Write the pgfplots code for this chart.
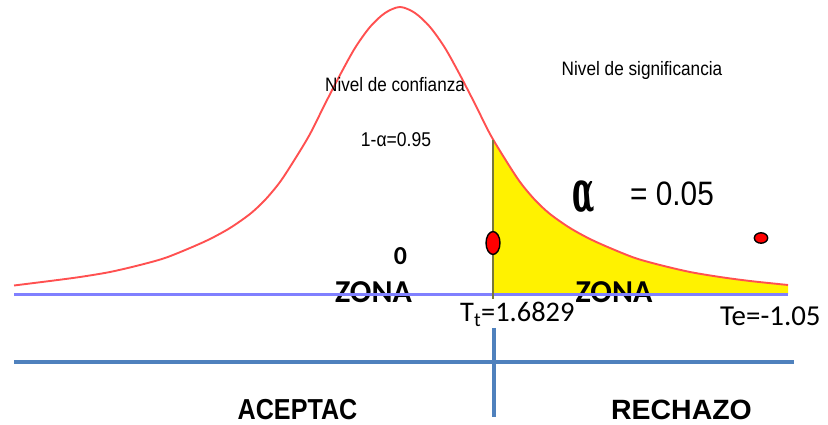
\documentclass[border=0pt]{standalone}
\usepackage{fontspec}
\setmainfont{Liberation Sans}
\newfontfamily\calibri{Carlito}
\newfontfamily\serifb{DejaVu Serif}
\usepackage{pgfplots}
\pgfplotsset{compat=1.18}
\usepgfplotslibrary{fillbetween}
\definecolor{curvered}{RGB}{255,80,80}
\definecolor{baseblue}{RGB}{128,128,255}
\definecolor{divblue}{RGB}{79,129,189}
\definecolor{olive}{RGB}{120,120,60}

\pgfplotstableread{
x y
14 285.5
50 281
80 277
110 272
140 265
165 258
190 248
210 239
230 228
250 214
265 200
280 182
295 159
310 134
325 104
340 75
355 48
370 27
385 13
400 7
415 13
430 27
445 48
460 75
475 104
490 134
505 159
520 182
535 200
550 214
570 228
590 239
610 248
635 258
660 265
690 272
720 277
750 281
788 285
}\curvetab

\begin{document}
\begin{tikzpicture}
\begin{axis}[
  scale only axis, width=828bp, height=425bp,
  xmin=0, xmax=828, ymin=0, ymax=425, y dir=reverse,
  hide axis, clip=false,
]
% ZONA labels (partly hidden by the fill)
\node[font=\calibri\bfseries\fontsize{32}{36}\selectfont, anchor=base, inner sep=0pt] at (axis cs:373.5,303) {ZONA};
\node[font=\calibri\bfseries\fontsize{32}{36}\selectfont, anchor=base, inner sep=0pt] at (axis cs:614,303) {ZONA};

% bell curve (pixel coordinates)
\addplot[name path=curve, draw=none, smooth, forget plot] table[x=x, y=y] {\curvetab};
\addplot[name path=base, draw=none, forget plot] coordinates {(480,294) (800,294)};
\addplot[fill=yellow, draw=none, forget plot] fill between[of=curve and base, soft clip={domain=493:788}];

% baseline
\addplot[baseblue, line width=2.8pt, forget plot] coordinates {(14,294.5) (788,294.5)};
% curve
\addplot[curvered, line width=1.9pt, smooth, forget plot] table[x=x, y=y] {\curvetab};
% critical value line
\addplot[olive, line width=1.4pt, forget plot] coordinates {(493,140) (493,299)};

% points
\addplot[only marks, mark=*, mark size=7, mark options={fill=red, draw=black, line width=1.4pt, yscale=1.64}, forget plot] coordinates {(493,243)};
\addplot[only marks, mark=*, mark size=6.7, mark options={fill=red, draw=black, line width=1.4pt, yscale=0.78}, forget plot] coordinates {(761,238)};

% texts
\node[font=\fontsize{19.5}{22}\selectfont, anchor=base, xscale=0.88, inner sep=0pt] at (axis cs:395,92) {Nivel de confianza};
\node[font=\fontsize{20}{22}\selectfont, anchor=base, xscale=0.88, inner sep=0pt] at (axis cs:396,147) {1-α=0.95};
\node[font=\fontsize{19.5}{22}\selectfont, anchor=base, xscale=0.885, inner sep=0pt] at (axis cs:642,76) {Nivel de significancia};
\node[font=\serifb\bfseries\fontsize{58}{64}\selectfont, anchor=base, xscale=0.5, inner sep=0pt] at (axis cs:584,212) {α};
\begin{scope}
\clip (axis cs:620,160) rectangle (axis cs:740,205);
\node[font=\fontsize{34}{38}\selectfont, anchor=base west, xscale=0.88, inner sep=0pt] at (axis cs:630,206) {= 0.05};
\end{scope}
\node[font=\calibri\bfseries\fontsize{26}{28}\selectfont, anchor=base, inner sep=0pt] at (axis cs:400.5,265) {0};
\node[font=\calibri\fontsize{28.5}{30}\selectfont, anchor=base west, inner sep=0pt] at (axis cs:460,322) {T\textsubscript{t}=1.6829};
\node[font=\calibri\fontsize{29}{30}\selectfont, anchor=base west, inner sep=0pt] at (axis cs:720,326) {Te=-1.05};

% lower divider
\addplot[divblue, line width=3.8pt, forget plot] coordinates {(14,362) (794,362)};
\addplot[divblue, line width=3.8pt, forget plot] coordinates {(494,328) (494,417)};
\node[font=\bfseries\fontsize{29}{32}\selectfont, anchor=base, xscale=0.87, inner sep=0pt] at (axis cs:297.5,419) {ACEPTAC};
\node[font=\bfseries\fontsize{28}{32}\selectfont, anchor=base, xscale=1.02, inner sep=0pt] at (axis cs:681.5,419) {RECHAZO};
\end{axis}
\pgfresetboundingbox
\path (current axis.south west) rectangle (current axis.north east);
\end{tikzpicture}
\end{document}
